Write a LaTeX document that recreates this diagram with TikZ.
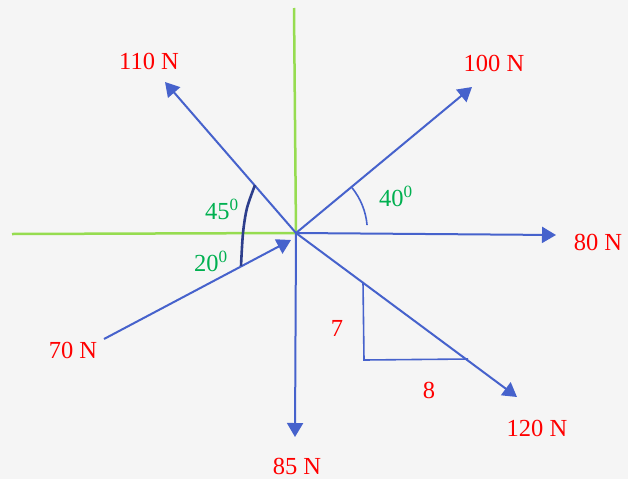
\documentclass[tikz,border=0pt]{standalone}
\usepackage{fontspec}
\setmainfont{Liberation Serif}
\usetikzlibrary{arrows.meta}
\definecolor{vecblue}{RGB}{70,98,204}
\definecolor{axisgreen}{RGB}{150,220,80}
\definecolor{txtgreen}{RGB}{0,176,80}
\definecolor{arcblue}{RGB}{45,62,140}
\definecolor{bg}{RGB}{245,245,245}
\tikzset{
  vec/.style={draw=vecblue, line width=2pt, -{Triangle[length=14pt,width=16pt]}},
  axisline/.style={draw=axisgreen, line width=2.5pt},
  thin/.style={draw=vecblue, line width=1.6pt},
  lab/.style={text=red, font=\fontsize{24.5}{29}\selectfont, inner sep=0pt},
  anglab/.style={text=txtgreen, font=\fontsize{24.5}{29}\selectfont, inner sep=0pt},
}
\begin{document}
\begin{tikzpicture}[x=1pt,y=-1pt]
\fill[bg] (0,0) rectangle (628,479);
\useasboundingbox (0,0) rectangle (628,479);
\coordinate (O) at (296,233);
\coordinate (vtop) at (294,8);
\coordinate (hleft) at (12,234);
\coordinate (t110) at (165,82);
\coordinate (t100) at (472,87);
\coordinate (t80) at (556,235);
\coordinate (s70) at (104,339);
\coordinate (t70) at (291,240);
\coordinate (t85) at (295,437);
\coordinate (t120) at (517,397);
\coordinate (tr1) at (363,282);
\coordinate (tr2) at (364,360);
\coordinate (tr3) at (468,359);
% axes
\draw[axisline] (vtop) -- (O);
\draw[axisline] (hleft) -- (O);
% vectors
\draw[vec] (O) -- (t110);
\draw[vec] (O) -- (t100);
\draw[vec] (O) -- (t80);
\draw[vec] (s70) -- (t70);
\draw[vec] (O) -- (t85);
\draw[vec] (O) -- (t120);
% slope triangle
\draw[thin] (tr1) -- (tr2) -- (tr3);
% angle arcs
\draw[thin] ([shift={(-39:72)}]O) arc[start angle=-39, end angle=-5, radius=69];
\draw[draw=arcblue, line width=2.6pt] plot[smooth] coordinates {(255,185) (247,208) (243,233) (241,266)};
% labels
\node[lab] (l110) at (149,61) {110 N};
\node[lab] (l100) at (494,63) {100 N};
\node[lab] (l80) at (598,242) {80 N};
\node[lab] (l70) at (73,350) {70 N};
\node[lab] (l85) at (297,466) {85 N};
\node[lab] (l120) at (537,428) {120 N};
\node[lab] (l7) at (337,328) {7};
\node[lab] (l8) at (429,390) {8};
\node[anglab] (a40) at (396,196) {40\textsuperscript{0}};
\node[anglab] (a45) at (222,209) {45\textsuperscript{0}};
\node[anglab] (a20) at (211,261) {20\textsuperscript{0}};
\end{tikzpicture}
\end{document}
